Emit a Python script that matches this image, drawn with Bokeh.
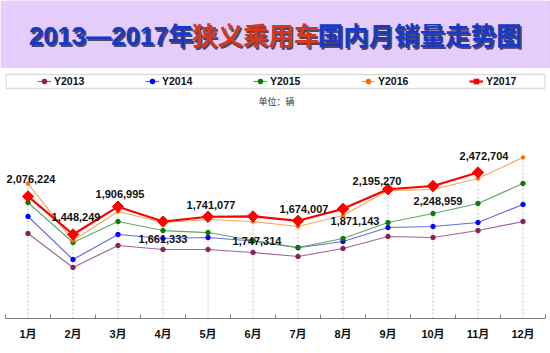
import math
import numpy as np
from bokeh.plotting import figure
from bokeh.layouts import column
from bokeh.models import Range1d, FixedTicker, Legend, LegendItem, BoxAnnotation, Label
from bokeh.embed import file_html
from bokeh.resources import INLINE
from bokeh.core.properties import value

# ---------------- data ----------------
months = ["1月", "2月", "3月", "4月", "5月", "6月", "7月", "8月", "9月", "10月", "11月", "12月"]
series_names = ["Y2013", "Y2014", "Y2015", "Y2016", "Y2017"]
y2013 = [1464000, 902000, 1266000, 1200000, 1200000, 1150000, 1084000, 1216000, 1414000, 1398000, 1513000, 1662000]
y2014 = [1745000, 1034000, 1447000, 1381000, 1398000, 1340000, 1228000, 1332000, 1563000, 1580000, 1646000, 1943000]
y2015 = [1976000, 1315000, 1662000, 1513000, 1480000, 1348000, 1233000, 1381000, 1646000, 1794000, 1960000, 2290000]
y2016 = [2290000, 1348000, 1827000, 1646000, 1695000, 1662000, 1580000, 1761000, 2174000, 2191000, 2373000, 2720000]
y2017 = [2076224, 1448249, 1906995, 1661333, 1741077, 1747314, 1674007, 1871143, 2195270, 2248959, 2472704, float("nan")]
title_parts = ["2013—2017年", "狭义乘用车", "国内月销量走势图"]
unit_text = "单位：辆"

# ---------------- layout constants ----------------
BAND = "#E4CCFB"
Y0 = 59500.0
YPP = 16523.0          # value per pixel
FRAME_H = 250
Y1 = Y0 + FRAME_H * YPP
AXIS_PY = 318.0        # canvas y of x-axis
MAIN_TOP = 68


def xd(px):
    return 0.5 + (px - 5) / 45.0


def yd(py):
    return Y0 + (AXIS_PY - py) * YPP


# ---------------- title band ----------------
t = figure(width=550, height=MAIN_TOP, x_range=Range1d(0, 550), y_range=Range1d(0, MAIN_TOP),
           toolbar_location=None, output_backend="svg", min_border=0,
           x_axis_location=None, y_axis_location=None)
t.grid.visible = False
t.background_fill_color = BAND
t.border_fill_color = BAND
t.outline_line_color = None

title_x = [24, 190, 318]
title_colors = ["#1838C8", "#D2381A", "#1838C8"]
tfont = "Liberation Sans, Noto Sans CJK SC"
for txt, col, x in zip(title_parts, title_colors, title_x):
    t.add_layout(Label(x=x + 1.8, y=MAIN_TOP - 37.6, text=txt, text_font=tfont, text_font_size="25.5px",
                       text_font_style="bold", text_color="#30304a", text_alpha=0.85,
                       text_align="left", text_baseline="middle"))
for txt, col, x in zip(title_parts, title_colors, title_x):
    t.add_layout(Label(x=x, y=MAIN_TOP - 35.8, text=txt, text_font=tfont, text_font_size="25.5px",
                       text_font_style="bold", text_color=col,
                       text_align="left", text_baseline="middle"))

# ---------------- main chart ----------------
p = figure(width=550, height=353 - MAIN_TOP, x_range=Range1d(0.5, 12.5), y_range=Range1d(Y0, Y1),
           toolbar_location=None, output_backend="svg",
           min_border_left=5, min_border_right=5, min_border_top=0, min_border_bottom=35,
           y_axis_location=None)
p.grid.visible = False
p.outline_line_color = None
p.background_fill_color = "white"
p.border_fill_color = "white"

idx = list(range(1, 13))
all_series = [y2013, y2014, y2015, y2016, y2017]
tops = np.nanmax(np.array(all_series, dtype=float), axis=0)

p.segment(x0=idx, y0=[Y0] * 12, x1=idx, y1=list(tops), line_color="#C4C4C4",
          line_width=1, line_dash="2 2")

styles = [
    dict(lc="#A0669C", mc="#8B2252", lw=1.2, marker="circle", size=4.5, angle=0),
    dict(lc="#6A6AE6", mc="#0000FF", lw=1.2, marker="circle", size=4.5, angle=0),
    dict(lc="#62A862", mc="#087A08", lw=1.2, marker="circle", size=4.5, angle=0),
    dict(lc="#F2A865", mc="#FF6A00", lw=1.2, marker="circle", size=3.5, angle=0),
    dict(lc="#FF0000", mc="#FF0000", lw=2.2, marker="square", size=8, angle=math.pi / 4),
]

items = []
for name, vals, st in zip(series_names, all_series, styles):
    lr = p.line(idx, vals, line_color=st["lc"], line_width=st["lw"])
    sr = p.scatter(idx, vals, marker=st["marker"], size=st["size"], angle=st["angle"],
                   fill_color=st["mc"], line_color=st["mc"])
    items.append(LegendItem(label=name, renderers=[lr, sr]))

# data labels for 2017
label_dx = [3, 3, 2, 0, 3, 4, 6, 12, -11, 5, 6]
label_dy = [-17, -17, -13, 17, -12, 25, -12, 12, -8, 15, -16]
lab_vals = y2017[:11]
lab_text = [f"{int(v):,}" for v in lab_vals]
p.text(x=idx[:11], y=lab_vals, text=lab_text, x_offset=label_dx, y_offset=label_dy,
       text_font=value("Liberation Sans"), text_font_size="11px", text_font_style="bold",
       text_color="#111111", text_align="center", text_baseline="middle")

# legend box + legend
p.add_layout(BoxAnnotation(left=xd(5.5), right=xd(544.5), top=yd(74), bottom=yd(88),
                           fill_alpha=0, line_color="#8A8A8A", line_width=1.5))
legend = Legend(items=items, orientation="horizontal", location=(32, AXIS_PY - 87.0),
                glyph_width=14, glyph_height=12, label_height=12, label_width=40,
                label_standoff=3, spacing=51, padding=0, margin=0,
                border_line_alpha=0, background_fill_alpha=0,
                label_text_font="Liberation Sans", label_text_font_size="10.5px",
                label_text_font_style="bold", label_text_color="#111111")
p.add_layout(legend)

p.add_layout(Label(x=xd(276), y=yd(101), text=unit_text, text_font="Noto Sans CJK SC",
                   text_font_size="9px", text_color="#333333",
                   text_align="center", text_baseline="middle"))

ax = p.xaxis[0]
ax.ticker = FixedTicker(ticks=idx, minor_ticks=[i + 0.5 for i in range(0, 13)])
ax.major_label_overrides = {i: m for i, m in zip(idx, months)}
ax.major_tick_in = 0
ax.major_tick_out = 0
ax.minor_tick_in = 4
ax.minor_tick_out = 0
ax.axis_line_color = "#7F7F7F"
ax.minor_tick_line_color = "#7F7F7F"
ax.axis_line_width = 1.2
ax.major_label_standoff = 9
ax.major_label_text_font = "Liberation Sans, Noto Sans CJK SC"
ax.major_label_text_font_size = "11px"
ax.major_label_text_font_style = "bold"
ax.major_label_text_color = "#111111"

layout = column(t, p, spacing=0)
open("out.html", "w").write(file_html(layout, INLINE))
